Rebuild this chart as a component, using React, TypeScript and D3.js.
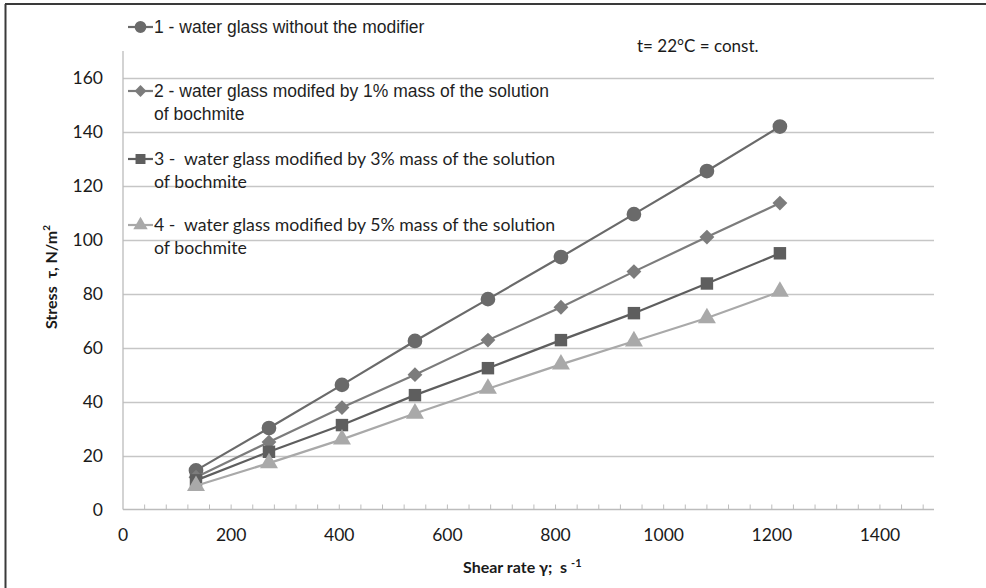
import React, { useEffect, useRef } from 'react'
import * as d3 from 'd3'

// shear rate, 1/s
const shearRate = [135, 270, 405, 540, 675, 810, 945, 1080, 1215]

// stress values, N/m2
const s1 = [14.5, 30.2, 46.2, 62.5, 78, 93.6, 109.5, 125.5, 142]
const s2 = [12, 25, 37.8, 50, 62.8, 75, 88.2, 101, 113.6]
const s3 = [10.8, 21.4, 31.3, 42.4, 52.4, 62.8, 72.8, 83.8, 95]
const s4 = [8.8, 17.2, 26, 35.6, 44.8, 53.8, 62.4, 71, 80.8]

const seriesNames = [
    ['1 - water glass without the modifier'],
    ['2 - water glass modifed by 1% mass of the solution', 'of bochmite'],
    ['3 -  water glass modified by 3% mass of the solution', 'of bochmite'],
    ['4 -  water glass modified by 5% mass of the solution', 'of bochmite'],
]
const seriesColors = ['#6a6a6a', '#7c7c7c', '#5e5e5e', '#a9a9a9']
const seriesShapes = ['circle', 'diamond', 'square', 'triangle']

const xTicks = [0, 200, 400, 600, 800, 1000, 1200, 1400]
const xMinorTicks = d3.range(40, 1500, 40)
const yTicks = [0, 20, 40, 60, 80, 100, 120, 140, 160]

const markerPath = (shape: string) => {
    if (shape === 'circle') return d3.symbol(d3.symbolCircle, 170)()
    if (shape === 'square') return d3.symbol(d3.symbolSquare, 155)()
    if (shape === 'triangle') return d3.symbol(d3.symbolTriangle, 140)()
    return d3.symbol(d3.symbolSquare, 110)()
}

const App: React.FC = () => {
    const svgRef = useRef<SVGSVGElement | null>(null)

    useEffect(() => {
        if (!svgRef.current) return
        document.body.style.margin = '0'
        d3.select(svgRef.current).selectAll('*').remove()

        const svg = d3.select(svgRef.current)
        const x = d3.scaleLinear().domain([0, 1500]).range([123, 934])
        const y = d3.scaleLinear().domain([0, 170]).range([509.5, 51])

        // frame (left and top edges only)
        svg.append('line').attr('x1', 5.5).attr('y1', 4).attr('x2', 5.5).attr('y2', 588)
            .attr('stroke', '#3a3a3a').attr('stroke-width', 2)
        svg.append('line').attr('x1', 5).attr('y1', 4).attr('x2', 986).attr('y2', 4)
            .attr('stroke', '#3a3a3a').attr('stroke-width', 2)

        // gridlines
        svg.append('g')
            .selectAll('line')
            .data(yTicks.slice(1))
            .enter()
            .append('line')
            .attr('x1', x(0))
            .attr('x2', x(1500))
            .attr('y1', (d) => Math.round(y(d)) + 0.5)
            .attr('y2', (d) => Math.round(y(d)) + 0.5)
            .attr('stroke', '#c6c6c6')
            .attr('stroke-width', 1.3)

        // axes
        svg.append('line').attr('x1', x(0)).attr('x2', x(0)).attr('y1', y(170)).attr('y2', y(0))
            .attr('stroke', '#bcbcbc').attr('stroke-width', 1.3)
        svg.append('line').attr('x1', x(0)).attr('x2', x(1500)).attr('y1', y(0)).attr('y2', y(0))
            .attr('stroke', '#bcbcbc').attr('stroke-width', 1.3)
        svg.append('g')
            .selectAll('line')
            .data(xMinorTicks)
            .enter()
            .append('line')
            .attr('x1', (d) => x(d))
            .attr('x2', (d) => x(d))
            .attr('y1', y(0))
            .attr('y2', y(0) - 5)
            .attr('stroke', '#bcbcbc')
            .attr('stroke-width', 1)

        // tick labels
        svg.append('g')
            .selectAll('text')
            .data(yTicks)
            .enter()
            .append('text')
            .attr('x', 103)
            .attr('y', (d) => y(d) + 6)
            .attr('text-anchor', 'end')
            .attr('font-family', 'Lato')
            .attr('font-size', 17.5)
            .attr('fill', '#1a1a1a')
            .text((d) => d)
        svg.append('g')
            .selectAll('text')
            .data(xTicks)
            .enter()
            .append('text')
            .attr('x', (d) => x(d))
            .attr('y', 541)
            .attr('text-anchor', 'middle')
            .attr('font-family', 'Lato')
            .attr('font-size', 17.5)
            .attr('fill', '#1a1a1a')
            .text((d) => d)

        // axis titles
        const xt = svg.append('text')
            .attr('x', 463)
            .attr('y', 573)
            .attr('font-family', 'Lato')
            .attr('font-weight', 'bold')
            .attr('font-size', 16)
            .attr('fill', '#1a1a1a')
            .style('white-space', 'pre')
        xt.append('tspan').text('Shear rate γ;  s ')
        xt.append('tspan').attr('font-size', 11).attr('dy', -6).text('-1')

        const yt = svg.append('text')
            .attr('transform', 'translate(57,277) rotate(-90)')
            .attr('text-anchor', 'middle')
            .attr('font-family', 'Lato')
            .attr('font-weight', 'bold')
            .attr('font-size', 16)
            .attr('fill', '#1a1a1a')
            .style('white-space', 'pre')
        yt.append('tspan').text('Stress  τ, N/m')
        yt.append('tspan').attr('font-size', 10).attr('dy', -7).text('2')

        svg.append('text')
            .attr('x', 637)
            .attr('y', 52)
            .attr('font-family', 'Lato')
            .attr('font-size', 17)
            .attr('fill', '#1a1a1a')
            .text('t= 22°C = const.')

        // series
        const allSeries = [s1, s2, s3, s4]
        const line = d3.line<number>()
            .x((_, i) => x(shearRate[i]))
            .y((d) => y(d))

        allSeries.forEach((vals, si) => {
            svg.append('path')
                .datum(vals)
                .attr('d', line)
                .attr('fill', 'none')
                .attr('stroke', seriesColors[si])
                .attr('stroke-width', 2.2)
            svg.append('g')
                .selectAll('path')
                .data(vals)
                .enter()
                .append('path')
                .attr('d', markerPath(seriesShapes[si]))
                .attr('transform', (d, i) =>
                    `translate(${x(shearRate[i])},${y(d)})` +
                    (seriesShapes[si] === 'diamond' ? ' rotate(45)' : ''))
                .attr('fill', seriesColors[si])
        })

        // legend
        const legendY = [27, 91, 159, 225]
        const legendFont = ['Liberation Sans', 'Liberation Sans', 'Lato', 'Lato']
        const legendSize = [17.5, 17.5, 17.7, 17.7]
        seriesNames.forEach((lines, si) => {
            const ly = legendY[si]
            svg.append('line')
                .attr('x1', 128).attr('x2', 153).attr('y1', ly).attr('y2', ly)
                .attr('stroke', seriesColors[si]).attr('stroke-width', 2.2)
            svg.append('path')
                .attr('d', markerPath(seriesShapes[si]))
                .attr('transform', `translate(140.5,${ly}) scale(0.8)` +
                    (seriesShapes[si] === 'diamond' ? ' rotate(45)' : ''))
                .attr('fill', seriesColors[si])
            lines.forEach((t, li) => {
                svg.append('text')
                    .attr('x', 154)
                    .attr('y', ly + 6 + li * 23)
                    .attr('font-family', legendFont[si])
                    .attr('font-size', legendSize[si])
                    .attr('fill', '#1f1f1f')
                    .style('white-space', 'pre')
                    .text(t)
            })
        })
    }, [])

    return <svg ref={svgRef} width={986} height={588} style={{ display: 'block', background: '#fff' }}></svg>
}

export default App
